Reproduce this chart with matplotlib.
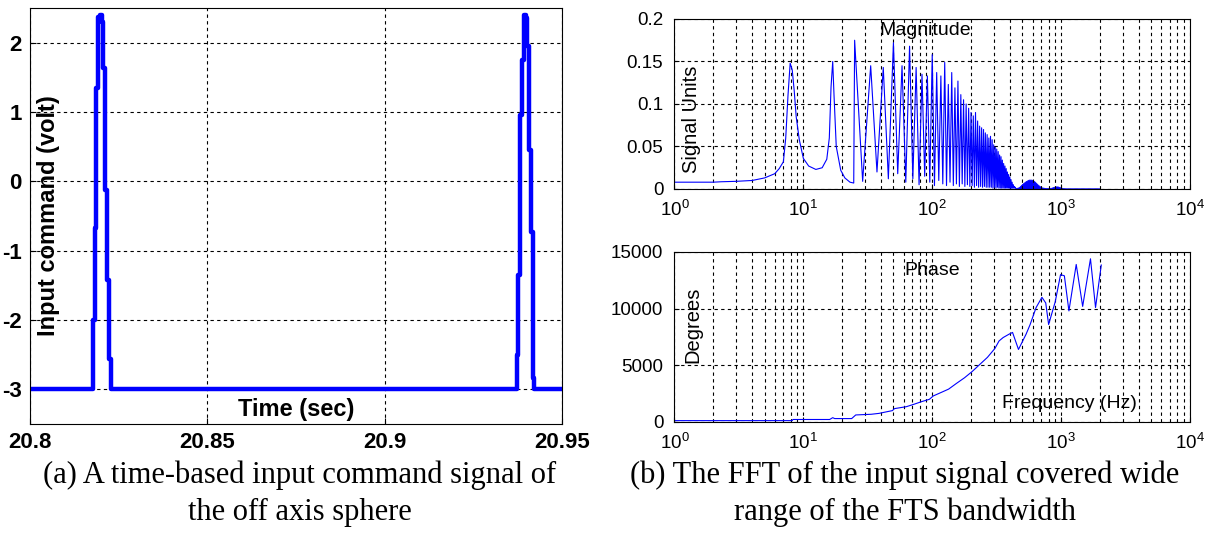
import numpy as np
import matplotlib.pyplot as plt
from matplotlib.ticker import LogLocator, NullFormatter

# ---- (a) time signal: two stepped pulses on a -3 V baseline ----
pulse1_t = [20.8000, 20.8177, 20.8182, 20.8187, 20.8192, 20.8197, 20.8202,
            20.8207, 20.8212, 20.8217, 20.8222, 20.8227]
pulse1_v = [-3.0, -2.0, -0.67, 1.35, 2.37, 2.40, 2.30, 1.64, -0.13, -1.42,
            -2.56, -3.0]
pulse2_t = [20.9372, 20.9377, 20.9382, 20.9387, 20.9392, 20.9397, 20.9402,
            20.9407, 20.9412, 20.9417, 20.9420, 20.9500]
pulse2_v = [-2.5, -1.35, 0.95, 1.75, 2.40, 2.35, 1.95, 0.45, -0.73, -2.83,
            -3.0, -3.0]

# ---- (b) FFT magnitude ----
low_freq = [1, 2, 2.3, 3, 4, 5, 6, 6.5, 7, 7.3, 7.6, 7.9, 8.2, 8.5, 8.8,
            9.3, 10, 11, 12.5, 14, 15.2, 15.9, 16.4, 16.9, 17.3, 18, 19.5,
            21, 23, 24.6]
low_mag = [0.008, 0.008, 0.0085, 0.009, 0.010, 0.013, 0.018, 0.024, 0.032,
           0.06, 0.11, 0.148, 0.14, 0.115, 0.085, 0.058, 0.036, 0.027,
           0.023, 0.025, 0.035, 0.06, 0.12, 0.15, 0.11, 0.05, 0.022, 0.013,
           0.008, 0.007]

harm_freq = [25.0, 33.3, 41.7, 50.0, 58.3, 66.7, 75.0, 83.3, 91.7, 100.0,
             108.3, 116.7, 125.0, 133.3, 141.7, 150.0, 158.3, 166.7, 175.0,
             183.3, 191.7, 200.0, 208.3, 216.7, 225.0, 233.3, 241.7, 250.0,
             258.3, 266.7, 275.0, 283.3, 291.7, 300.0, 308.3, 316.7, 325.0,
             333.3, 341.7, 350.0, 358.3, 366.7, 375.0, 383.3, 391.7, 400.0,
             408.3, 416.7, 425.0, 433.3, 441.7]
harm_peak = [0.175, 0.145, 0.143, 0.172, 0.145, 0.168, 0.143, 0.135, 0.133,
             0.158, 0.137, 0.133, 0.149, 0.123, 0.137, 0.119, 0.127, 0.111,
             0.105, 0.100, 0.095, 0.090, 0.086, 0.090, 0.080, 0.074, 0.072,
             0.070, 0.066, 0.064, 0.060, 0.062, 0.058, 0.052, 0.049, 0.047,
             0.044, 0.040, 0.038, 0.034, 0.030, 0.027, 0.024, 0.020, 0.017,
             0.014, 0.011, 0.008, 0.005, 0.003, 0.002]
harm_valley = [0.009, 0.020, 0.012, 0.018, 0.008, 0.012, 0.005, 0.015,
               0.008, 0.004, 0.010, 0.006, 0.004, 0.008, 0.004, 0.006,
               0.003, 0.006, 0.003, 0.005, 0.003, 0.004, 0.002, 0.004,
               0.002, 0.003, 0.002, 0.003, 0.002, 0.002, 0.002, 0.002,
               0.001, 0.002, 0.001, 0.002, 0.001, 0.001, 0.001, 0.001,
               0.001, 0.001, 0.001, 0.001, 0.001, 0.001, 0.001, 0.001,
               0.001, 0.001, 0.001]

tail_freq = [445, 470, 500, 530, 560, 590, 620, 660, 700, 760, 820, 860,
             900, 940, 980, 1020, 1100, 1300, 1600, 2000]
tail_mag = [0.001, 0.002, 0.006, 0.009, 0.011, 0.011, 0.009, 0.005, 0.002,
            0.001, 0.001, 0.002, 0.003, 0.003, 0.002, 0.001, 0.0008,
            0.0008, 0.0008, 0.0008]

# ---- (b) FFT phase ----
phase_freq = [1, 8.2, 8.3, 16.0, 16.9, 17.5, 23.7, 25.5, 33.6, 38.7, 44.3,
              49, 51, 63, 72, 83, 95, 102, 117, 134, 154, 178, 204, 235,
              268, 307, 330, 355, 395, 420, 467, 535, 575, 640, 710, 760,
              800, 900, 990, 1060, 1150, 1310, 1470, 1690, 1850, 2050]
phase_deg = [120, 120, 220, 220, 380, 300, 300, 620, 680, 760, 900, 1000,
             1180, 1350, 1560, 1800, 2000, 2300, 2600, 2900, 3400, 3900,
             4450, 5100, 5700, 6500, 7150, 7450, 7750, 7900, 6400, 7750,
             8600, 10100, 11000, 10500, 8600, 10600, 13000, 12900, 9800,
             13900, 10200, 14400, 10100, 13850]

BLUE = "#0000ff"
GRID = dict(color="black", linestyle=(0, (3, 3)), linewidth=0.8)

plt.rcParams["font.family"] = ["Liberation Sans", "DejaVu Sans"]
plt.rcParams["axes.unicode_minus"] = False
fig = plt.figure(figsize=(12.07, 5.44), dpi=100)

# left panel
ax = fig.add_axes([0.0249, 0.2206, 0.4408, 0.7647])
t = pulse1_t + pulse2_t
v = pulse1_v + pulse2_v
ax.step(t, v, where="post", color=BLUE, linewidth=3.2)
ax.set_xlim(20.8, 20.95)
ax.set_ylim(-3.5, 2.5)
ax.set_xticks([20.8, 20.85, 20.9, 20.95])
ax.set_xticklabels(["20.8", "20.85", "20.9", "20.95"])
ax.set_yticks([-3, -2, -1, 0, 1, 2])
ax.set_yticklabels(["-3", "-2", "-1", "0", "1", "2"])
ax.grid(True, **GRID)
ax.tick_params(direction="in", labelsize=16, length=4, pad=6)
for lab in ax.get_xticklabels() + ax.get_yticklabels():
    lab.set_fontweight("bold")
ax.text(0.034, 0.5, "Input command (volt)", transform=ax.transAxes,
        rotation=90, ha="center", va="center", fontsize=17,
        fontweight="bold")
ax.text(0.5, 0.034, "Time (sec)", transform=ax.transAxes, ha="center",
        va="center", fontsize=17, fontweight="bold")


def log_axes(a):
    a.set_xscale("log")
    a.set_xlim(1, 1e4)
    a.xaxis.set_major_locator(LogLocator(base=10, numticks=10))
    a.xaxis.set_minor_locator(LogLocator(base=10, subs=np.arange(2, 10),
                                         numticks=10))
    a.xaxis.set_minor_formatter(NullFormatter())
    a.grid(True, which="major", **GRID)
    a.grid(True, which="minor", axis="x", **GRID)
    a.tick_params(which="both", direction="in", labelsize=13.5, pad=8)
    a.tick_params(which="minor", length=2)


# magnitude
ax1 = fig.add_axes([0.5588, 0.6526, 0.4271, 0.3125])
mag_f = list(low_freq)
mag_m = list(low_mag)
for i in range(len(harm_freq)):
    mag_f.append(harm_freq[i])
    mag_m.append(harm_peak[i])
    nxt = harm_freq[i + 1] if i + 1 < len(harm_freq) else tail_freq[0]
    mag_f.append(np.sqrt(harm_freq[i] * nxt))
    mag_m.append(harm_valley[i])
ax1.plot(mag_f, mag_m, color=BLUE, linewidth=0.8)
ax1.fill_between(tail_freq, 0, tail_mag, color=BLUE, linewidth=0.6)
log_axes(ax1)
ax1.set_ylim(0, 0.2)
ax1.set_yticks([0, 0.05, 0.1, 0.15, 0.2])
ax1.set_yticklabels(["0", "0.05", "0.1", "0.15", "0.2"])
ax1.text(0.486, 0.935, "Magnitude", transform=ax1.transAxes, ha="center",
         va="center", fontsize=14)
ax1.text(0.034, 0.41, "Signal Units", transform=ax1.transAxes, rotation=90,
         ha="center", va="center", fontsize=14.5)

# phase
ax2 = fig.add_axes([0.5588, 0.2243, 0.4271, 0.3125])
ax2.plot(phase_freq, phase_deg, color=BLUE, linewidth=0.8)
log_axes(ax2)
ax2.set_ylim(0, 15000)
ax2.set_yticks([0, 5000, 10000, 15000])
ax2.set_yticklabels(["0", "5000", "10000", "15000"])
ax2.text(0.5, 0.894, "Phase", transform=ax2.transAxes, ha="center",
         va="center", fontsize=14)
ax2.text(0.036, 0.57, "Degrees", transform=ax2.transAxes, rotation=90,
         ha="center", va="center", fontsize=14.5)
ax2.text(0.767, 0.106, "Frequency (Hz)", transform=ax2.transAxes,
         ha="center", va="center", fontsize=14)

# captions
cap = dict(ha="center", va="center", fontsize=22, family="Liberation Serif")
fig.text(300 / 1207, 1 - 475 / 544,
         "(a) A time-based input command signal of", **cap)
fig.text(300 / 1207, 1 - 512 / 544, "the off axis sphere", **cap)
fig.text(905 / 1207, 1 - 475 / 544,
         "(b) The FFT of the input signal covered wide", **cap)
fig.text(905 / 1207, 1 - 512 / 544, "range of the FTS bandwidth", **cap)

fig.savefig("out.png", dpi=100)
